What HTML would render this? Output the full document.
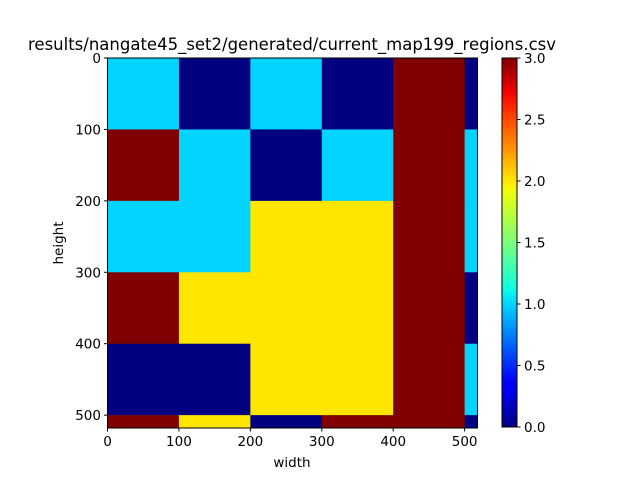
<!DOCTYPE html>
<html><head><meta charset="utf-8"><style>
body{margin:0;background:#fff;width:640px;height:480px;overflow:hidden;font-family:"DejaVu Sans",sans-serif}
</style></head><body>
<svg id="chart" width="640" height="480" font-family="DejaVu Sans, sans-serif">
<defs><linearGradient id="jet" x1="0" y1="1" x2="0" y2="0">
<stop offset="0" stop-color="#000080"/><stop offset="0.11" stop-color="#0000ff"/><stop offset="0.125" stop-color="#0000ff"/>
<stop offset="0.34" stop-color="#00dbff"/><stop offset="0.375" stop-color="#0dffe3"/><stop offset="0.5" stop-color="#7aff7a"/>
<stop offset="0.64" stop-color="#f0ff08"/><stop offset="0.66" stop-color="#ffed00"/><stop offset="0.89" stop-color="#ff1200"/>
<stop offset="0.91" stop-color="#f00000"/><stop offset="1" stop-color="#800000"/></linearGradient></defs>
<text x="292" y="50" text-anchor="middle" font-size="16.5">results/nangate45_set2/generated/current_map199_regions.csv</text>
<g id="cells"></g><g id="axes"></g>
<rect x="502" y="58" width="15" height="369" fill="url(#jet)" stroke="#000" stroke-width="1"/>
<text x="292" y="467" text-anchor="middle" font-size="13.5">width</text>
<text x="63" y="243" text-anchor="middle" font-size="13.5" transform="rotate(-90 63 243)">height</text>
</svg>
<script>
const rowStarts=[0,100,200,300,400,500];
const colStarts=[0,100,200,300,400,500];
const extent=518;
const values=[[1,0,1,0,3,0],[3,1,0,1,3,1],[1,1,2,2,3,1],[3,2,2,2,3,0],[0,0,2,2,3,1],[3,2,0,3,3,0]];
const xTicks=[0,100,200,300,400,500];
const yTicks=[0,100,200,300,400,500];
const cbTicks=[0,0.5,1,1.5,2,2.5,3];
const vmin=0,vmax=3;
const X0=107.5,Y0=58,S=370/extent;
const sx=v=>X0+v*S, sy=v=>Y0+v*S;
const cb=v=>427-(v-vmin)/(vmax-vmin)*369;
const ns="http://www.w3.org/2000/svg";
function col(v){const t=(v-vmin)/(vmax-vmin);
 if(t<0.2)return"#000080"; if(t<0.5)return"#00d4ff"; if(t<0.8)return"#ffe600"; return"#800000";}
const cells=document.getElementById('cells'),axes=document.getElementById('axes');
function mk(tag,a,p){const e=document.createElementNS(ns,tag);for(const k in a)e.setAttribute(k,a[k]);p.appendChild(e);return e;}
values.forEach((row,i)=>row.forEach((v,j)=>{
 const y1=rowStarts[i],y2=i+1<rowStarts.length?rowStarts[i+1]:extent;
 const x1=colStarts[j],x2=j+1<colStarts.length?colStarts[j+1]:extent;
 const r=mk('rect',{x:sx(x1),y:sy(y1),width:sx(x2)-sx(x1)+0.3,height:sy(y2)-sy(y1)+0.3,fill:col(v)},cells);
 
 
}));
const fr=mk('rect',{x:X0,y:Y0,width:370,height:370,fill:'none',stroke:'#000','stroke-width':1},axes);


xTicks.forEach(t=>{mk('line',{x1:sx(t),x2:sx(t),y1:428,y2:431.5,stroke:'#000'},axes);
 const e=mk('text',{x:sx(t),y:446,'text-anchor':'middle','font-size':13.5},axes);e.textContent=t;
 
 });
yTicks.forEach(t=>{mk('line',{x1:104,x2:107.5,y1:sy(t),y2:sy(t),stroke:'#000'},axes);
 const e=mk('text',{x:101,y:sy(t)+5,'text-anchor':'end','font-size':13.5},axes);e.textContent=t;
 
 });
cbTicks.forEach(t=>{mk('line',{x1:517,x2:520.5,y1:cb(t),y2:cb(t),stroke:'#000'},axes);
 const e=mk('text',{x:524,y:cb(t)+5,'font-size':13.5},axes);e.textContent=t.toFixed(1);
 
 });
</script>
</body></html>
